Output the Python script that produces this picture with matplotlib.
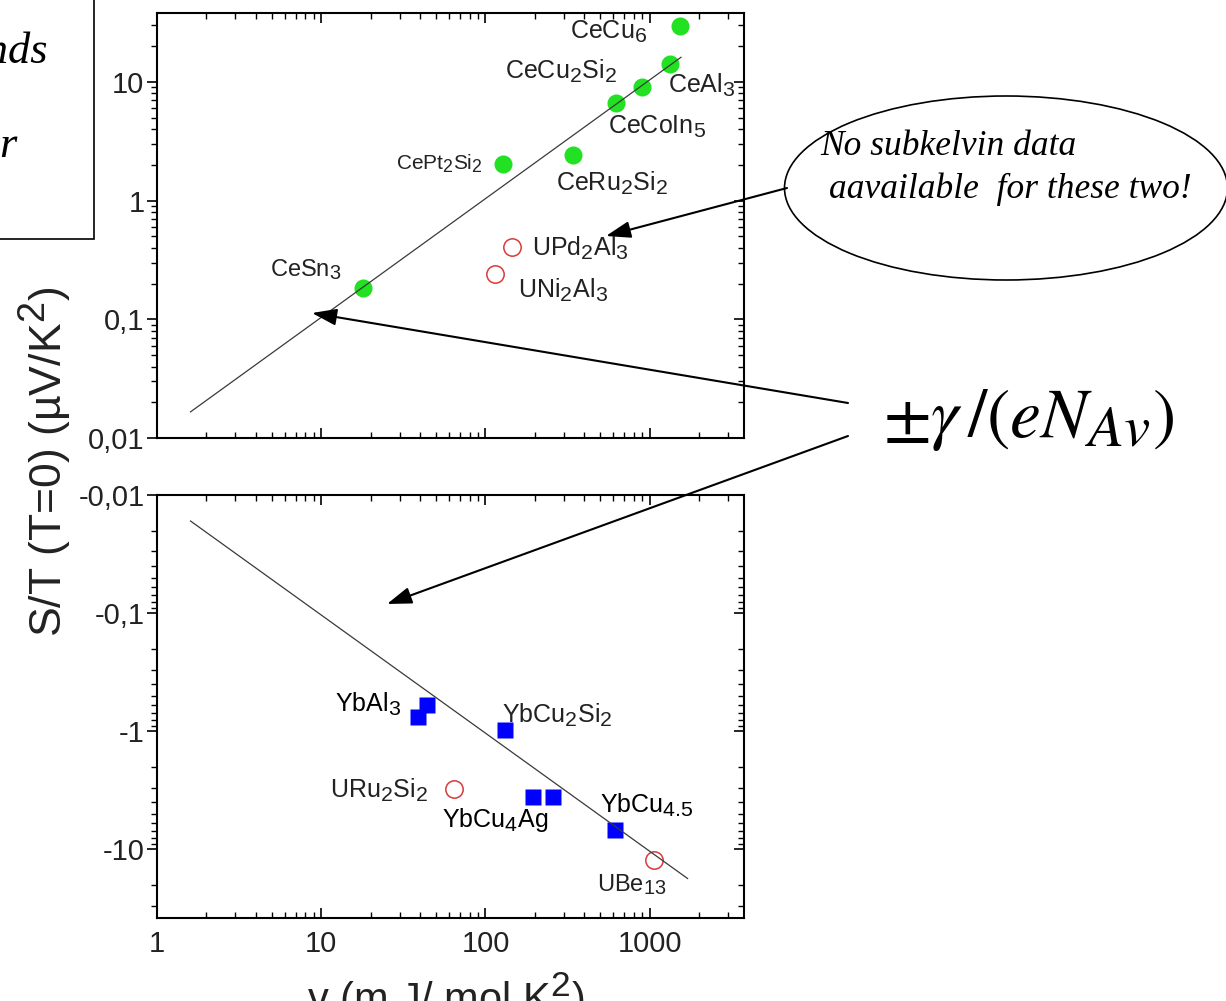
import matplotlib
matplotlib.use("Agg")
import matplotlib.pyplot as plt
import matplotlib.lines as mlines
import numpy as np
from matplotlib.patches import Ellipse, Rectangle, FancyArrowPatch
from matplotlib.ticker import FixedLocator, FixedFormatter, LogLocator, NullFormatter

plt.rcParams['font.family'] = ['Liberation Sans', 'DejaVu Sans']
plt.rcParams['mathtext.fontset'] = 'custom'
plt.rcParams['mathtext.rm'] = 'Liberation Sans'
plt.rcParams['mathtext.it'] = 'Liberation Sans:italic'
plt.rcParams['mathtext.bf'] = 'Liberation Sans:bold'

# larger sub/superscripts in the chemical formulas
try:
    import matplotlib._mathtext as _mt
    _mt.SHRINK_FACTOR = 0.85
except (ImportError, AttributeError):
    pass

# Ce compounds (S/T > 0)
ce_names = ['CeCu$_6$', 'CeAl$_3$', 'CeCu$_2$Si$_2$', 'CeCoIn$_5$',
            'CePt$_2$Si$_2$', 'CeRu$_2$Si$_2$', 'CeSn$_3$']
ce_gamma = [1520, 1320, 900, 620, 127, 340, 18]
ce_st = [29.5, 14.2, 9.1, 6.6, 2.05, 2.4, 0.183]

# U compounds without subkelvin data (S/T > 0)
upos_names = ['UPd$_2$Al$_3$', 'UNi$_2$Al$_3$']
upos_gamma = [146, 115]
upos_st = [0.41, 0.24]

# Yb compounds (S/T < 0)
yb_names = ['YbAl$_3$', 'YbAl$_3$', 'YbCu$_2$Si$_2$', 'YbCu$_4$Ag', 'YbCu$_4$Ag', 'YbCu$_{4.5}$']
yb_gamma = [44, 39, 131, 196, 256, 612]
yb_st = [-0.60, -0.76, -0.98, -3.6, -3.6, -6.8]

# U compounds (S/T < 0)
uneg_names = ['URu$_2$Si$_2$', 'UBe$_{13}$']
uneg_gamma = [64, 1060]
uneg_st = [-3.05, -12.3]

# q = +-gamma/(e N_Av) reference lines
line_gamma_pos = [1.6, 1550]
line_st_pos = [0.0166, 16.1]
line_gamma_neg = [1.6, 1700]
line_st_neg = [-0.0166, -17.6]

x_ticks = [1, 10, 100, 1000]
x_ticklabels = ['1', '10', '100', '1000']
y_ticks_pos = [0.01, 0.1, 1, 10]
y_ticklabels_pos = ['0,01', '0,1', '1', '10']
y_ticks_neg = [-0.01, -0.1, -1, -10]
y_ticklabels_neg = ['-0,01', '-0,1', '-1', '-10']

W, H = 1226, 1001


def px(x, y):
    # pixel position measured from the top-left corner -> figure fraction
    return x / W, 1 - y / H


def neg_log(y):
    y = np.asarray(y, dtype=float)
    with np.errstate(divide='ignore', invalid='ignore'):
        return -np.log10(-y)


def neg_exp(v):
    return -10.0 ** (-np.asarray(v, dtype=float))


fig = plt.figure(figsize=(W / 100, H / 100), dpi=100)
ax_top = fig.add_axes([157 / W, 1 - 438 / H, (744 - 157) / W, (438 - 13) / H])
ax_bot = fig.add_axes([157 / W, 1 - 918 / H, (744 - 157) / W, (918 - 495) / H])

green = '#22e022'
red = '#d83a3a'
blue = '#0000ff'
txt = '#222222'

# upper panel
ax_top.plot(line_gamma_pos, line_st_pos, color='#3a3a3a', lw=0.9, zorder=4)
ax_top.plot(ce_gamma, ce_st, 'o', ms=13, color=green, mec='none', zorder=3)
ax_top.plot(upos_gamma, upos_st, 'o', ms=12.5, mfc='none', mec=red, mew=1.1, zorder=3)
ax_top.set_xscale('log')
ax_top.set_yscale('log')
ax_top.set_xlim(1, 3750)
ax_top.set_ylim(0.01, 38)
ax_top.yaxis.set_major_locator(FixedLocator(y_ticks_pos))
ax_top.yaxis.set_major_formatter(FixedFormatter(y_ticklabels_pos))
ax_top.yaxis.set_minor_locator(LogLocator(base=10, subs=np.arange(2, 10)))
ax_top.yaxis.set_minor_formatter(NullFormatter())

# lower panel, negative values on a mirrored log scale
ax_bot.plot(line_gamma_neg, line_st_neg, color='#3a3a3a', lw=0.9, zorder=4)
ax_bot.plot(yb_gamma, yb_st, 's', ms=12, color=blue, mec='none', zorder=3)
ax_bot.plot(uneg_gamma, uneg_st, 'o', ms=12.5, mfc='none', mec=red, mew=1.1, zorder=3)
ax_bot.set_xscale('log')
ax_bot.set_yscale('function', functions=(neg_log, neg_exp))
ax_bot.set_xlim(1, 3750)
ax_bot.set_ylim(-38, -0.01)
minor_neg = [-k * 10.0 ** n for n in range(-2, 2) for k in range(2, 10) if k * 10.0 ** n < 38]
ax_bot.yaxis.set_major_locator(FixedLocator(y_ticks_neg))
ax_bot.yaxis.set_major_formatter(FixedFormatter(y_ticklabels_neg))
ax_bot.yaxis.set_minor_locator(FixedLocator(minor_neg))
ax_bot.yaxis.set_minor_formatter(NullFormatter())

for ax in (ax_top, ax_bot):
    ax.xaxis.set_major_locator(FixedLocator(x_ticks))
    ax.xaxis.set_major_formatter(FixedFormatter(x_ticklabels))
    ax.xaxis.set_minor_locator(LogLocator(base=10, subs=np.arange(2, 10)))
    ax.xaxis.set_minor_formatter(NullFormatter())
    for s in ax.spines.values():
        s.set_linewidth(1.5)
    ax.tick_params(axis='x', which='both', direction='in', top=True, bottom=True,
                   labelsize=21, labelcolor=txt, pad=9)
    ax.tick_params(axis='y', which='both', direction='out', left=True, right=True,
                   labelsize=21, labelcolor=txt, pad=2)
    ax.tick_params(which='major', length=7, width=1.2)
    ax.tick_params(which='minor', length=4, width=1.0)
ax_top.tick_params(axis='x', labelbottom=False)

# point labels
labels = [
    ('CeCu$_6$', 570, 39, 18, txt),
    ('CeCu$_2$Si$_2$', 505, 79, 18, txt),
    ('CeAl$_3$', 668, 93, 18, txt),
    ('CeCoIn$_5$', 608, 134, 18, txt),
    ('CePt$_2$Si$_2$', 396, 170, 15, txt),
    ('CeRu$_2$Si$_2$', 556, 191, 18, txt),
    ('CeSn$_3$', 270, 276, 17, txt),
    ('UPd$_2$Al$_3$', 532, 256, 18, txt),
    ('UNi$_2$Al$_3$', 518, 298, 18, txt),
    ('YbAl$_3$', 335, 712, 18, 'black'),
    ('YbCu$_2$Si$_2$', 502, 723, 18, txt),
    ('URu$_2$Si$_2$', 330, 798, 18, txt),
    ('YbCu$_4$Ag', 442, 827, 18, 'black'),
    ('YbCu$_{4.5}$', 600, 813, 18, 'black'),
    ('UBe$_{13}$', 597, 891, 17, txt),
]
for name, x, y, size, col in labels:
    fig.text(*px(x, y), name, ha='left', va='baseline', fontsize=size, color=col)

fig.text(*px(45, 462), 'S/T (T=0) (µV/K$^2$)', rotation=90, ha='center', va='center',
         fontsize=32, color=txt)
fig.text(*px(446, 1013), 'γ (m J/ mol K$^2$)', ha='center', va='baseline',
         fontsize=30, color=txt)

# slide annotations
fig.add_artist(Rectangle(px(-10, 239), 104 / W, 260 / H, transform=fig.transFigure,
                         fill=False, lw=1.2, ec='black'))
fig.text(*px(48, 63), 'Trends', ha='right', va='baseline', family='Liberation Serif',
         style='italic', fontsize=32)
fig.text(*px(18, 157), 'linear', ha='right', va='baseline', family='Liberation Serif',
         style='italic', fontsize=32)

fig.add_artist(Ellipse(px(1006, 188), 443 / W, 184 / H, transform=fig.transFigure,
                       fill=False, lw=1.2, ec='black'))
fig.text(*px(820, 155), 'No subkelvin data', ha='left', va='baseline',
         family='Liberation Serif', style='italic', fontsize=25.5)
fig.text(*px(829, 198), 'aavailable  for these two!', ha='left', va='baseline',
         family='Liberation Serif', style='italic', fontsize=25.5)

fig.text(*px(883, 437), r'$\pm\gamma\,/(eN_{Av})$', ha='left', va='baseline',
         math_fontfamily='stix', fontsize=50)

arrow_kw = dict(transform=fig.transFigure, arrowstyle='-|>,head_length=1.0,head_width=0.34',
                mutation_scale=15, lw=1.5, color='black', shrinkA=0, shrinkB=0)
for tail, tip in [((787, 188), (606, 236)),
                  ((848, 403), (312, 313)),
                  ((848, 436), (387, 604))]:
    fig.add_artist(FancyArrowPatch(px(*tail), px(*tip), **arrow_kw))

# ticks on the right-hand spines point into the frame
for ax in (ax_top, ax_bot):
    ticks = (ax.yaxis.get_major_ticks(len(ax.yaxis.get_majorticklocs()))
             + ax.yaxis.get_minor_ticks(len(ax.yaxis.get_minorticklocs())))
    for t in ticks:
        t.tick2line.set_marker(mlines.TICKLEFT)

fig.savefig('out.png', dpi=100)
